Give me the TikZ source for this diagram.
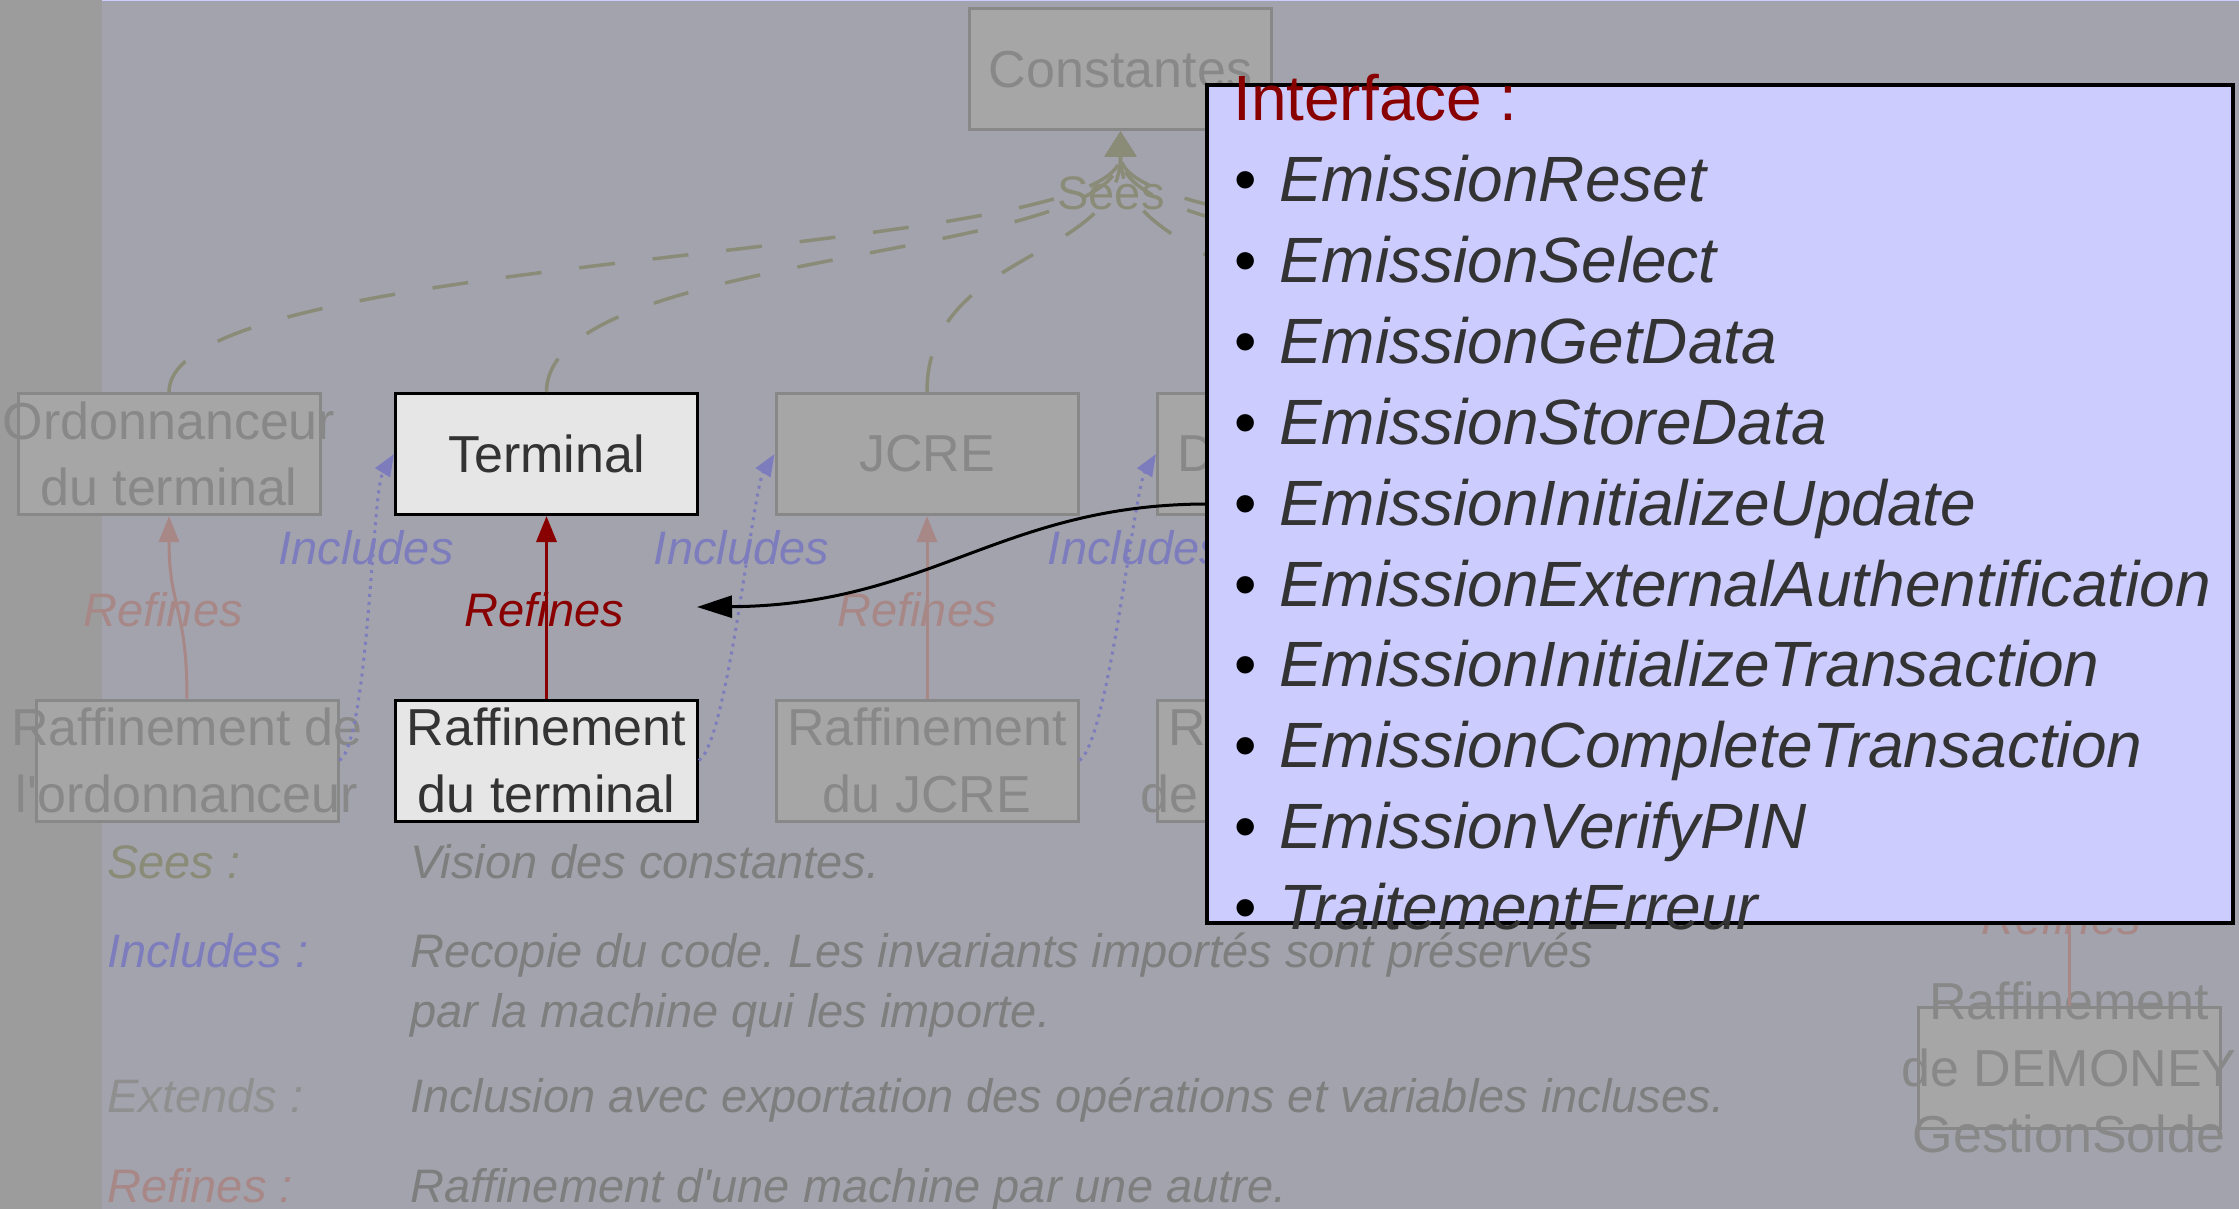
\documentclass[tikz,border=0pt]{standalone}
\usepackage{fontspec}
\setmainfont{Liberation Sans}
\usetikzlibrary{arrows.meta}

\definecolor{fondgris}{RGB}{163,163,173}
\definecolor{bandegris}{RGB}{156,156,156}
\definecolor{boitegris}{RGB}{166,166,166}
\definecolor{traitgris}{RGB}{136,136,136}
\definecolor{fondclair}{RGB}{230,230,230}
\definecolor{textefonce}{RGB}{51,51,51}
\definecolor{seescol}{RGB}{138,140,120}
\definecolor{includescol}{RGB}{125,125,190}
\definecolor{refinescol}{RGB}{168,135,135}
\definecolor{extendscol}{RGB}{143,143,143}
\definecolor{legendegris}{RGB}{126,126,126}
\definecolor{rougefonce}{RGB}{136,0,0}
\definecolor{lavande}{RGB}{204,204,255}

\newcommand{\boxfont}{\fontsize{52}{66.5}\selectfont}
\newcommand{\labelfont}{\fontsize{47}{60}\selectfont}
\newcommand{\popfont}{\fontsize{64}{80}\selectfont}

\frenchspacing
\begin{document}
\begin{tikzpicture}[x=1pt,y=-1pt]
	\tikzset{dim box/.style={draw=traitgris,fill=boitegris,line width=3pt,minimum width=302pt,minimum height=121pt,inner sep=0pt}}
	\tikzset{live box/.style={dim box,draw=black,fill=fondclair}}
	\tikzset{box text/.style={text=traitgris,font=\boxfont,align=center,inner sep=0pt}}
	\tikzset{live text/.style={box text,text=textefonce}}
	\tikzset{edge label/.style={font=\labelfont\itshape,anchor=base,inner sep=0pt}}
	\tikzset{legend/.style={font=\labelfont\itshape,anchor=base west,inner sep=0pt,text=legendegris}}
	\tikzset{sees edge/.style={draw=seescol,line width=3.5pt,dash pattern=on 36pt off 38pt,-{Triangle[length=25pt,width=31pt]}}}
	\tikzset{includes edge/.style={draw=includescol,line width=3pt,dash pattern=on 3pt off 5pt,-{Triangle[length=22pt,width=17pt]}}}
	\tikzset{refines edge/.style={draw=refinescol,line width=3pt,-{Triangle[length=26pt,width=20pt]}}}
	\tikzset{refines live/.style={refines edge,draw=rougefonce,fill=rougefonce,line width=3.5pt}}
	\tikzset{popup/.style={draw=black,fill=lavande,line width=3.5pt,minimum width=1026pt,minimum height=838pt,inner sep=0pt}}
	\tikzset{popup item/.style={font=\popfont\itshape,text=textefonce,anchor=base west,inner sep=0pt}}

	\useasboundingbox (0,0) rectangle (2239,1209);
	\fill[fondgris] (0,0) rectangle (2239,1209);
	\fill[bandegris] (0,0) rectangle (102,1209);
	\fill[lavande] (102,0) rectangle (2239,1.5);

	\node[dim box] (constantes) at (1120.5,69.5) {};
	\node[box text] (constantes-t) at (constantes) {Constantes};

	\node[dim box] (ordo) at (169,454) {};
	\node[box text] (ordo-t) at (ordo) {Ordonnanceur\\du terminal};
	\node[live box] (terminal) at (546.5,454) {};
	\node[live text] (terminal-t) at (terminal) {Terminal};
	\node[dim box] (jcre) at (927,454) {};
	\node[box text] (jcre-t) at (jcre) {JCRE};
	\node[dim box] (demoney) at (1308.5,454) {};
	\node[box text] (demoney-t) at (demoney) {DEMONEY};

	\node[dim box] (rafford) at (187,760.5) {};
	\node[box text] (rafford-t) at (rafford) {Raffinement de\\l\textquotesingle ordonnanceur};
	\node[live box] (raffterm) at (546.5,760.5) {};
	\node[live text] (raffterm-t) at (raffterm) {Raffinement\\du terminal};
	\node[dim box] (raffjcre) at (927,760.5) {};
	\node[box text] (raffjcre-t) at (raffjcre) {Raffinement\\du JCRE};
	\node[dim box] (raffdem) at (1308.5,760.5) {};
	\node[box text] (raffdem-t) at (raffdem) {Raffinement\\de DEMONEY};

	\node[dim box] (raffgs) at (2069,1067.5) {};
	\node[box text] (raffgs-t) at (raffgs) {Raffinement\\de DEMONEY\\GestionSolde};

	\coordinate (cache1) at (1689,393);
	\coordinate (cache2) at (2069,393);
	\coordinate (cache3) at (2069,822);

	\foreach \src in {ordo.north,terminal.north,jcre.north,demoney.north,cache1,cache2}
		\draw[sees edge] (\src) .. controls +(0,-143) and +(0,130) .. (constantes.south);
	\node[edge label,font=\labelfont,text=seescol] (sees-l) at (1111,210) {Sees};

	\draw[includes edge] (rafford.east) .. controls +(29,-20) and +(-22,36) .. (terminal.west);
	\draw[includes edge] (raffterm.east) .. controls +(29,-20) and +(-22,36) .. (jcre.west);
	\draw[includes edge] (raffjcre.east) .. controls +(29,-20) and +(-22,36) .. (demoney.west);
	\node[edge label,text=includescol] (inc1) at (366,564) {Includes};
	\node[edge label,text=includescol] (inc2) at (741.5,564) {Includes};
	\node[edge label,text=includescol] (inc3) at (1135.5,564) {Includes};

	\draw[refines edge] (rafford.north) .. controls +(0,-92) and +(0,92) .. (ordo.south);
	\draw[refines edge] (raffjcre.north) -- (jcre.south);
	\draw[refines edge] (raffgs.north) -- (cache3);
	\node[edge label,text=refinescol] (ref1) at (163,626) {Refines};
	\node[edge label,text=refinescol] (ref3) at (917,626) {Refines};
	\node[edge label,text=refinescol] (ref4) at (2061,934) {Refines};
	\draw[refines live] (raffterm.north) -- (terminal.south);
	\node[edge label,text=rougefonce] (ref2) at (544.5,626) {Refines};

	\node[legend,text=seescol] (k-sees) at (107,878) {Sees :};
	\node[legend] (d-sees) at (410,878) {Vision des constantes.};
	\node[legend,text=includescol] (k-inc) at (107,967) {Includes :};
	\node[legend] (d-inc) at (410,967) {Recopie du code. Les invariants importés sont préservés};
	\node[legend] (d-inc2) at (410,1027) {par la machine qui les importe.};
	\node[legend,text=extendscol] (k-ext) at (107,1112) {Extends :};
	\node[legend] (d-ext) at (410,1112) {Inclusion avec exportation des opérations et variables incluses.};
	\node[legend,text=refinescol] (k-ref) at (107,1202) {Refines :};
	\node[legend] (d-ref) at (410,1202) {Raffinement d\textquotesingle une machine par une autre.};

	\node[popup] (interface) at (1720,504) {};
	\node[popup item,font=\popfont,text=rougefonce] (titre) at (1233,121) {Interface :};
	\foreach \nom [count=\i from 0] in {EmissionReset,EmissionSelect,EmissionGetData,EmissionStoreData,EmissionInitializeUpdate,EmissionExternalAuthentification,EmissionInitializeTransaction,EmissionCompleteTransaction,EmissionVerifyPIN,TraitementErreur}
	{
		\node[popup item,font=\popfont,text=black] (puce\i) at (1234,{202+80.8*\i}) {\textbullet};
		\node[popup item] (item\i) at (1279,{202+80.8*\i}) {\nom};
	}

	\coordinate (cible) at (697,607);
	\draw[line width=3pt,-{Triangle[length=35pt,width=22pt]}] (interface.west) .. controls (1000,505) and (930,605) .. (cible);
\end{tikzpicture}
\end{document}
